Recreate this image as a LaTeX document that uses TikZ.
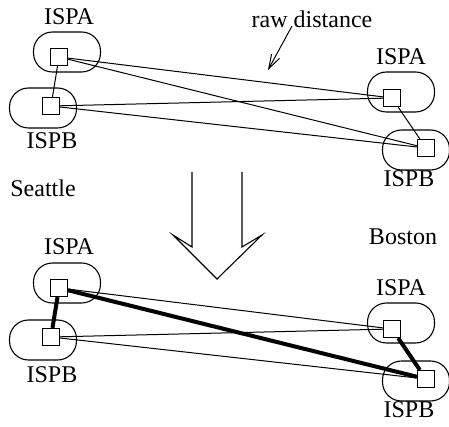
\documentclass[tikz,border=0pt]{standalone}
\usepackage{fontspec}
\setmainfont{Liberation Serif}
\usetikzlibrary{arrows.meta}

\tikzset{
  isp/.style={draw, line width=1.1pt, rounded corners=19pt, minimum width=67pt, minimum height=40pt},
  router/.style={draw, fill=white, line width=1.2pt, minimum size=17pt, inner sep=0pt},
  lbl/.style={font=\fontsize{24}{28}\selectfont, inner sep=0pt},
  thin link/.style={line width=1pt},
  thick link/.style={line width=4pt}
}

\begin{document}
\begin{tikzpicture}[x=1pt, y=-1pt]
\useasboundingbox (0,0) rectangle (449,427);

% top: raw distances
\node[isp] (sispa) at (67,52) {};
\node[isp] (sispb) at (43,108) {};
\node[isp] (bispa) at (401,92) {};
\node[isp] (bispb) at (416,150) {};

\node[lbl] (sispatxt) at (69,17) {ISPA};
\node[lbl] (sispbtxt) at (52,141) {ISPB};
\node[lbl] (bispatxt) at (401,57) {ISPA};
\node[lbl] (bispbtxt) at (409,179) {ISPB};

\node[router] (sa) at (59,57) {};
\node[router] (sb) at (51,106) {};
\node[router] (ba) at (392,98) {};
\node[router] (bb) at (426,148) {};

\draw[thin link] (sa) -- (sb);
\draw[thin link] (sa) -- (ba);
\draw[thin link] (sa) -- (bb);
\draw[thin link] (sb) -- (ba);
\draw[thin link] (sb) -- (bb);
\draw[thin link] (ba) -- (bb);

\node[lbl] (rawtxt) at (312,19) {raw distance};
\coordinate (rawtail) at (292,26);
\coordinate (rawhead) at (268,70);
\draw[line width=1pt, -{Straight Barb[length=14pt, width=9pt]}] (rawtail) -- (rawhead);

\node[lbl] (seattle) at (43,188) {Seattle};
\node[lbl] (boston) at (403,237) {Boston};

% the big arrow
\draw[line width=1.1pt, line join=miter] (192,172) -- (192,247) -- (173,235) -- (217,279)
  -- (262,235) -- (242,247) -- (242,172);

% bottom: chosen links
\node[isp] (sispa2) at (67,283) {};
\node[isp] (sispb2) at (43,340) {};
\node[isp] (bispa2) at (401,323) {};
\node[isp] (bispb2) at (416,381) {};

\node[lbl] (sispatxt2) at (69,247) {ISPA};
\node[lbl] (sispbtxt2) at (52,375) {ISPB};
\node[lbl] (bispatxt2) at (401,288) {ISPA};
\node[lbl] (bispbtxt2) at (409,410) {ISPB};

\node[router] (sa2) at (59,288) {};
\node[router] (sb2) at (51,337) {};
\node[router] (ba2) at (392,329) {};
\node[router] (bb2) at (426,379) {};

\draw[thick link] (sa2) -- (sb2);
\draw[thin link] (sa2) -- (ba2);
\draw[thick link] (sa2) -- (bb2);
\draw[thin link] (sb2) -- (ba2);
\draw[thin link] (sb2) -- (bb2);
\draw[thick link] (ba2) -- (bb2);

% redraw routers on top of the links
\foreach \r in {sa,sb,ba,bb,sa2,sb2,ba2,bb2}
  \node[router] at (\r) {};
\end{tikzpicture}
\end{document}
